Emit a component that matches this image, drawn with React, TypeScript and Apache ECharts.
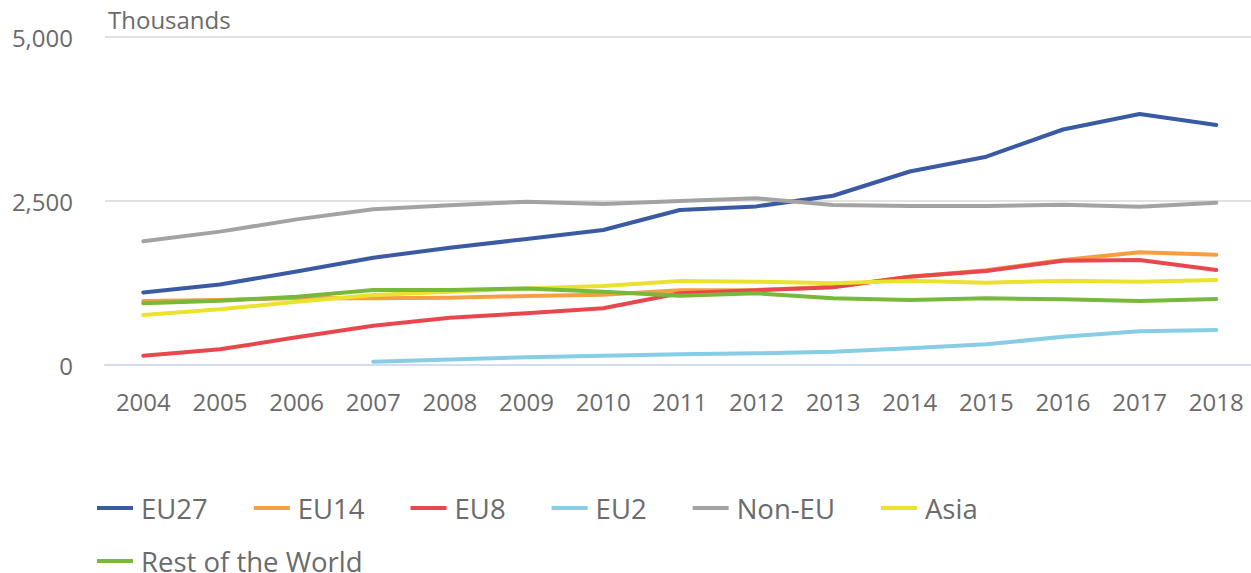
import React, { useEffect, useRef } from "react";
import * as echarts from "echarts";

const years = ["2004","2005","2006","2007","2008","2009","2010","2011","2012","2013","2014","2015","2016","2017","2018"];
const yTicks = [0, 2500, 5000];

const eu27 = [1105, 1228, 1425, 1635, 1788, 1921, 2058, 2363, 2418, 2580, 2950, 3175, 3590, 3826, 3659];
const eu14 = [976, 991, 1020, 1016, 1026, 1052, 1070, 1140, 1145, 1190, 1346, 1445, 1601, 1718, 1682];
const eu8 = [142, 239, 422, 599, 721, 788, 864, 1093, 1140, 1184, 1346, 1433, 1590, 1601, 1448];
const eu2 = [null, null, null, 51, 84, 117, 142, 163, 178, 203, 254, 315, 432, 513, 534];
const nonEu = [1885, 2033, 2220, 2373, 2434, 2490, 2454, 2500, 2541, 2439, 2424, 2424, 2444, 2414, 2474];
const asia = [762, 849, 965, 1067, 1118, 1168, 1204, 1281, 1270, 1245, 1286, 1255, 1286, 1270, 1296];
const restOfWorld = [940, 980, 1041, 1143, 1143, 1168, 1118, 1057, 1093, 1016, 991, 1016, 1001, 976, 1006];

const seriesDefs = [
  { name: "EU27", data: eu27, color: "#3b5aa4" },
  { name: "EU14", data: eu14, color: "#f59e42" },
  { name: "EU8", data: eu8, color: "#e8484d" },
  { name: "EU2", data: eu2, color: "#86cde5" },
  { name: "Non-EU", data: nonEu, color: "#a3a3a3" },
  { name: "Asia", data: asia, color: "#ebe22e" },
  { name: "Rest of the World", data: restOfWorld, color: "#78b83a" },
];

const FONT = "'Open Sans', sans-serif";
const TEXT = "#6b6b6b";

export default function App() {
  const ref = useRef<HTMLDivElement>(null);
  useEffect(() => {
    if (!ref.current) return;
    const chart = echarts.init(ref.current, undefined, { renderer: "svg" });
    const legendText = {
      fontFamily: FONT,
      fontSize: 27.5,
      lineHeight: 26,
      color: TEXT,
      padding: [0, 0, 0, 3],
    };
    const legendBase = {
      left: 97,
      padding: 0,
      itemGap: 46,
      itemWidth: 36,
      itemHeight: 4,
      icon: "rect",
      textStyle: legendText,
    };
    chart.setOption({
      animation: false,
      textStyle: { fontFamily: FONT },
      grid: { left: 105, top: 37, width: 1149.6, height: 328, containLabel: false },
      xAxis: {
        type: "category",
        data: years,
        boundaryGap: true,
        axisLine: { lineStyle: { color: "#d3dcee", width: 2 } },
        axisTick: { alignWithLabel: true, length: 21, lineStyle: { color: "#d3dcee", width: 2 } },
        axisLabel: { fontFamily: FONT, fontSize: 24, color: TEXT, margin: 24 },
      },
      yAxis: {
        type: "value",
        min: yTicks[0],
        max: yTicks[yTicks.length - 1],
        interval: 2500,
        name: "Thousands",
        nameLocation: "end",
        nameGap: 6,
        nameTextStyle: {
          fontFamily: FONT,
          fontSize: 24,
          color: TEXT,
          align: "left",
          verticalAlign: "bottom",
          padding: [0, 0, 0, 3],
        },
        axisLine: { show: false },
        axisTick: { show: false },
        axisLabel: {
          fontFamily: FONT,
          fontSize: 24,
          color: TEXT,
          margin: 32,
          formatter: (v: number) => v.toLocaleString("en-US"),
        },
        splitLine: { lineStyle: { color: "#e2e2e2", width: 2 } },
      },
      legend: [
        { ...legendBase, data: seriesDefs.slice(0, 6).map((s) => s.name), top: 494 },
        { ...legendBase, data: [seriesDefs[6].name], top: 547 },
      ],
      series: seriesDefs.map((s) => ({
        name: s.name,
        type: "line",
        data: s.data,
        color: s.color,
        showSymbol: false,
        symbol: "none",
        lineStyle: { width: 4, color: s.color, cap: "round", join: "round" },
        itemStyle: { color: s.color },
      })),
    });
    return () => chart.dispose();
  }, []);
  return (
    <div
      ref={ref}
      style={{ position: "absolute", left: 0, top: 0, width: 1260, height: 573, background: "#fff" }}
    />
  );
}
